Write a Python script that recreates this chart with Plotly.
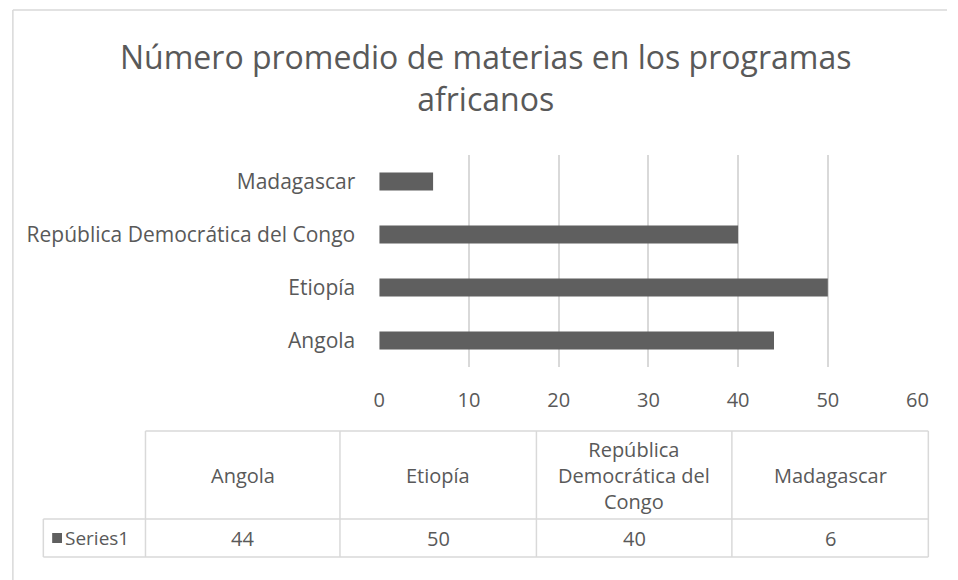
import plotly.graph_objects as go

categories = ["Angola", "Etiopía", "República Democrática del Congo", "Madagascar"]
table_headers = ["Angola", "Etiopía", "República<br>Democrática del<br>Congo", "Madagascar"]
values = [44, 50, 40, 6]
series_name = "Series1"
x_ticks = [0, 10, 20, 30, 40, 50, 60]

W, H = 958, 580
FONT = "Open Sans, sans-serif"
TXT = "#595959"
GRID = "#d9d9d9"
BAR = "#5f5f5f"


def px(x):
    return x / W


def py(y):
    return 1 - y / H


fig = go.Figure()
fig.add_trace(go.Bar(
    y=categories, x=values, orientation="h", name=series_name,
    marker=dict(color=BAR, line=dict(width=0)), width=0.34,
    showlegend=False, hoverinfo="x+y",
))

fig.update_layout(
    width=W, height=H, autosize=False,
    margin=dict(l=0, r=0, t=0, b=0),
    paper_bgcolor="white", plot_bgcolor="white",
    font=dict(family=FONT, color=TXT, size=17),
    xaxis=dict(domain=[px(380), px(928)], range=[0, 60], tickvals=x_ticks,
               showgrid=True, gridcolor=GRID, gridwidth=1.5, zeroline=False,
               showline=False, ticks="", ticklabelstandoff=19,
               tickfont=dict(size=20, color=TXT)),
    yaxis=dict(domain=[py(367), py(155)], range=[-0.5, 3.5],
               showgrid=False, zeroline=False, showline=False, ticks="",
               ticklabelstandoff=23, tickfont=dict(size=21, color=TXT)),
)

# title
fig.add_annotation(text="Número promedio de materias en los programas<br>africanos",
                   x=px(488), y=py(77), xref="paper", yref="paper",
                   showarrow=False, font=dict(size=32, color=TXT, family=FONT),
                   xanchor="center", yanchor="middle")

# outer chart border
line = dict(color=GRID, width=1.5)
fig.add_shape(type="line", x0=px(7), x1=px(7), y0=py(10), y1=py(580),
              xref="paper", yref="paper", line=line)
fig.add_shape(type="line", x0=px(7), x1=px(958), y0=py(10), y1=py(10),
              xref="paper", yref="paper", line=line)

# data table
col_edges = [142, 340, 540, 739, 939]
top, mid, bottom = 431, 519, 557
tline = dict(color=GRID, width=1.5)
for x in col_edges:
    fig.add_shape(type="line", x0=px(x), x1=px(x), y0=py(top), y1=py(bottom),
                  xref="paper", yref="paper", line=tline)
fig.add_shape(type="line", x0=px(38), x1=px(38), y0=py(mid), y1=py(bottom),
              xref="paper", yref="paper", line=tline)
fig.add_shape(type="line", x0=px(142), x1=px(939), y0=py(top), y1=py(top),
              xref="paper", yref="paper", line=tline)
for y in (mid, bottom):
    fig.add_shape(type="line", x0=px(38), x1=px(939), y0=py(y), y1=py(y),
                  xref="paper", yref="paper", line=tline)

for i, (hdr, v) in enumerate(zip(table_headers, values)):
    cx = (col_edges[i] + col_edges[i + 1]) / 2
    fig.add_annotation(text=hdr, x=px(cx), y=py((top + mid) / 2), xref="paper", yref="paper",
                       showarrow=False, font=dict(size=20, color=TXT), align="center",
                       xanchor="center", yanchor="middle")
    fig.add_annotation(text=str(v), x=px(cx), y=py((mid + bottom) / 2), xref="paper", yref="paper",
                       showarrow=False, font=dict(size=20, color=TXT),
                       xanchor="center", yanchor="middle")

# legend key in the table
fig.add_shape(type="rect", x0=px(47), x1=px(57), y0=py(543), y1=py(533),
              xref="paper", yref="paper", fillcolor=BAR, line=dict(width=0))
fig.add_annotation(text=series_name, x=px(58), y=py((mid + bottom) / 2), xref="paper", yref="paper",
                   showarrow=False, xanchor="left", yanchor="middle",
                   font=dict(size=19, color=TXT))

fig.write_html("out.html",
               config={"responsive": False, "displayModeBar": False},
               post_script="document.body.style.margin='0px';document.body.style.overflow='hidden';")
